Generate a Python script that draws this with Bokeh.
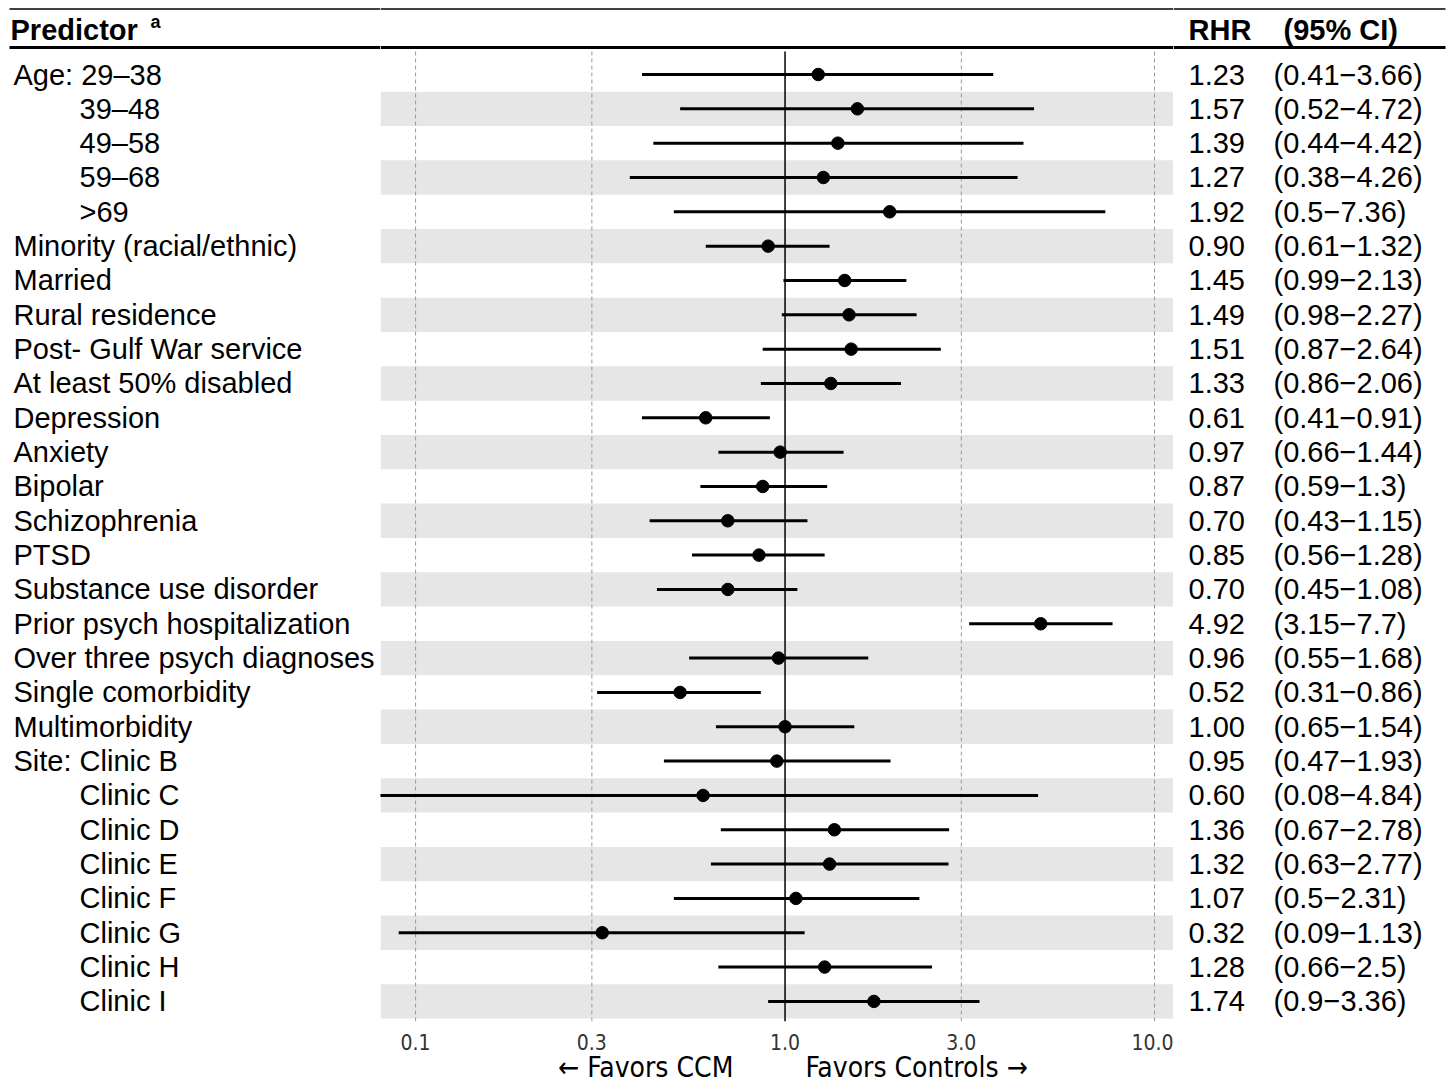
from bokeh.plotting import figure
from bokeh.layouts import gridplot
from bokeh.models import Range1d, Span, FixedTicker, PrintfTickFormatter
from bokeh.core.properties import value
from bokeh.embed import file_html
from bokeh.resources import INLINE

# ---------------- data ----------------
labels = ["Age: 29–38", "39–48", "49–58", "59–68", ">69",
          "Minority (racial/ethnic)", "Married", "Rural residence",
          "Post- Gulf War service", "At least 50% disabled", "Depression",
          "Anxiety", "Bipolar", "Schizophrenia", "PTSD",
          "Substance use disorder", "Prior psych hospitalization",
          "Over three psych diagnoses", "Single comorbidity", "Multimorbidity",
          "Site: Clinic B", "Clinic C", "Clinic D", "Clinic E", "Clinic F",
          "Clinic G", "Clinic H", "Clinic I"]
indent = [False, True, True, True, True,
          False, False, False, False, False, False, False, False, False, False,
          False, False, False, False, False,
          False, True, True, True, True, True, True, True]
rhr = [1.23, 1.57, 1.39, 1.27, 1.92, 0.90, 1.45, 1.49, 1.51, 1.33, 0.61, 0.97,
       0.87, 0.70, 0.85, 0.70, 4.92, 0.96, 0.52, 1.00, 0.95, 0.60, 1.36, 1.32,
       1.07, 0.32, 1.28, 1.74]
ci_low = [0.41, 0.52, 0.44, 0.38, 0.5, 0.61, 0.99, 0.98, 0.87, 0.86, 0.41, 0.66,
          0.59, 0.43, 0.56, 0.45, 3.15, 0.55, 0.31, 0.65, 0.47, 0.08, 0.67, 0.63,
          0.5, 0.09, 0.66, 0.9]
ci_high = [3.66, 4.72, 4.42, 4.26, 7.36, 1.32, 2.13, 2.27, 2.64, 2.06, 0.91, 1.44,
           1.3, 1.15, 1.28, 1.08, 7.7, 1.68, 0.86, 1.54, 1.93, 4.84, 2.78, 2.77,
           2.31, 1.13, 2.5, 3.36]
x_ticks = [0.1, 0.3, 1.0, 3.0, 10.0]
header_left = "Predictor"
header_sup = "a"
header_rhr = "RHR"
header_ci = "(95% CI)"
NB = "\u00a0"
axis_title = NB * 4 + "←" + NB + "Favors CCM" + NB * 9 + "Favors Controls" + NB + "→"

# ---------------- layout constants ----------------
n = len(labels)
ys = [-i for i in range(n)]
rhr_txt = ["%.2f" % v for v in rhr]
ci_txt = ["(%s−%s)" % (format(l, "g"), format(h, "g")) for l, h in zip(ci_low, ci_high)]

ROW_PX = 34.33
FIRST = 74.0          # pixel y of first row centre
H = 1091
FRAME_BOTTOM = 1021
BORDER_B = H - FRAME_BOTTOM


def py(pix):
    return (FIRST - pix) / ROW_PX


Y_TOP = py(0)
Y_BOT = py(FRAME_BOTTOM)
TOP_LINE_Y = py(8.5)
HEAD_Y = py(29)
HEAD_LINE_Y = py(47)
GRID_TOP = py(51)

FONT = value("Liberation Sans")
COND = "DejaVu Sans Condensed, Liberation Sans"
yr = Range1d(Y_BOT, Y_TOP)


def base_fig(width, **kw):
    p = figure(width=width, height=H, y_range=yr, output_backend="svg",
               toolbar_location=None, min_border_left=0, min_border_right=0,
               min_border_top=0, min_border_bottom=BORDER_B,
               y_axis_location=None, **kw)
    p.outline_line_color = None
    p.grid.grid_line_color = None
    p.background_fill_color = "white"
    p.border_fill_color = "white"
    return p


def rules(p, x0, x1):
    p.segment(x0=[x0, x0], x1=[x1, x1], y0=[TOP_LINE_Y, HEAD_LINE_Y],
              y1=[TOP_LINE_Y, HEAD_LINE_Y], line_color="black",
              line_width=[1.5, 3])


# ---------------- left: labels ----------------
WL = 380
left = base_fig(WL, x_range=Range1d(0, WL), x_axis_location=None)
rules(left, 9, WL)
left.text(x=[79 if ind else 13 for ind in indent], y=ys, text=labels,
          text_font=FONT, text_font_size="29px", text_baseline="middle",
          text_color="black")
left.text(x=[10], y=[HEAD_Y], text=[header_left], text_font=FONT,
          text_font_size="29px", text_font_style="bold", text_baseline="middle")
left.text(x=[150], y=[py(21)], text=[header_sup], text_font=FONT,
          text_font_size="18px", text_font_style="bold", text_baseline="middle")

# ---------------- middle: forest ----------------
WM = 793
mid = base_fig(WM, x_axis_type="log", x_range=Range1d(0.08036, 11.257))
mid.add_layout(Span(location=TOP_LINE_Y, dimension="width",
                    line_color="black", line_width=1.5))
mid.add_layout(Span(location=HEAD_LINE_Y, dimension="width",
                    line_color="black", line_width=3))
mid.hbar(y=[y for i, y in enumerate(ys) if i % 2 == 1], height=1.0,
         left=0.01, right=100, fill_color="#e6e6e6", line_color=None)
grid_x = [t for t in x_ticks if t != 1.0]
mid.segment(x0=grid_x, x1=grid_x, y0=GRID_TOP, y1=Y_BOT, line_color="#9a9a9a",
            line_width=1, line_dash="4 3")
mid.segment(x0=[1.0], x1=[1.0], y0=[GRID_TOP], y1=[Y_BOT], line_color="black",
            line_width=1.5)
mid.segment(x0=ci_low, x1=ci_high, y0=ys, y1=ys, line_color="black", line_width=3)
mid.scatter(x=rhr, y=ys, size=12.5, fill_color="black", line_color="black")

ax = mid.xaxis[0]
ax.ticker = FixedTicker(ticks=x_ticks, minor_ticks=[])
ax.formatter = PrintfTickFormatter(format="%.1f")
ax.axis_line_color = None
ax.major_tick_line_color = None
ax.minor_tick_line_color = None
ax.major_tick_out = 0
ax.major_tick_in = 0
ax.major_label_standoff = 12
ax.major_label_text_font = COND
ax.major_label_text_font_size = "21px"
ax.major_label_text_color = "#333333"
ax.axis_label = axis_title
ax.axis_label_standoff = -2
ax.axis_label_text_font = COND
ax.axis_label_text_font_size = "28px"
ax.axis_label_text_font_style = "normal"
ax.axis_label_text_color = "black"

# ---------------- right: values ----------------
WR = 1453 - WL - WM
right = base_fig(WR, x_range=Range1d(0, WR), x_axis_location=None)
rules(right, 0, 272)
right.text(x=15, y=ys, text=rhr_txt, text_font=FONT, text_font_size="29px",
           text_baseline="middle")
right.text(x=100, y=ys, text=ci_txt, text_font=FONT, text_font_size="29px",
           text_baseline="middle")
right.text(x=[15, 110], y=[HEAD_Y, HEAD_Y], text=[header_rhr, header_ci],
           text_font=FONT, text_font_size="29px", text_font_style="bold",
           text_baseline="middle")

layout = gridplot([[left, mid, right]], toolbar_location=None)
open("out.html", "w").write(file_html(layout, INLINE))
